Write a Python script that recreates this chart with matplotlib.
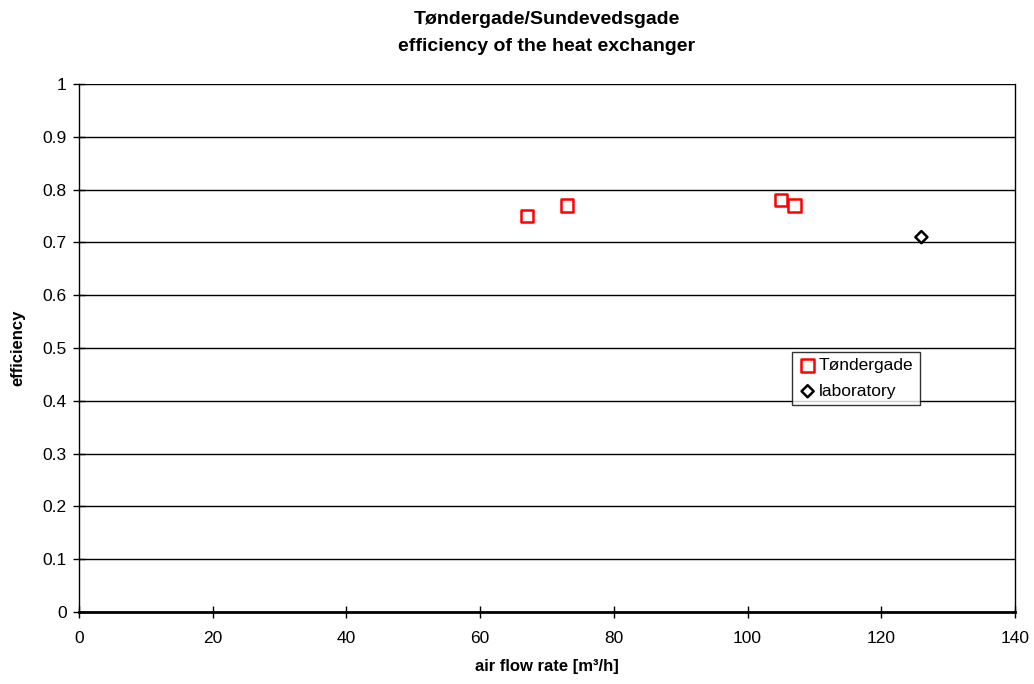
import matplotlib
matplotlib.use("Agg")
import matplotlib.pyplot as plt

plt.rcParams['font.family'] = ['Liberation Sans', 'DejaVu Sans']

# Measured data
tonder_flow = [67, 73, 105, 107]
tonder_eff = [0.75, 0.77, 0.78, 0.77]
lab_flow = [126]
lab_eff = [0.71]

x_ticks = [0, 20, 40, 60, 80, 100, 120, 140]
y_ticks = [0, 0.1, 0.2, 0.3, 0.4, 0.5, 0.6, 0.7, 0.8, 0.9, 1]
y_tick_labels = ['0', '0.1', '0.2', '0.3', '0.4', '0.5', '0.6', '0.7', '0.8', '0.9', '1']

W, H = 1034, 684
fig = plt.figure(figsize=(W / 100, H / 100), dpi=100)
ax = fig.add_axes([79 / W, 1 - 612 / H, (1015 - 79) / W, (612 - 84) / H])

ax.scatter(tonder_flow, tonder_eff, marker='s', s=80, facecolors='none',
           edgecolors='#ff0000', linewidths=1.8, label='Tøndergade', zorder=3)
ax.scatter(lab_flow, lab_eff, marker='D', s=38, facecolors='none',
           edgecolors='black', linewidths=1.8, label='laboratory', zorder=3)

ax.set_xlim(0, 140)
ax.set_ylim(0, 1)
ax.set_xticks(x_ticks)
ax.set_yticks(y_ticks)
ax.set_yticklabels(y_tick_labels)
ax.set_xticklabels([str(v) for v in x_ticks])

ax.grid(axis='y', color='black', linewidth=1.0)
ax.set_axisbelow(True)
for side in ['left', 'right', 'top']:
    ax.spines[side].set_linewidth(1.0)
ax.spines['bottom'].set_linewidth(2.0)
ax.spines['top'].set_visible(False)

ax.tick_params(axis='both', direction='inout', length=8, width=1.0,
               labelsize=12.5, colors='black')
ax.tick_params(axis='x', pad=10)
ax.tick_params(axis='y', pad=5)

ax.set_xlabel('air flow rate [m³/h]', fontsize=12, fontweight='bold', labelpad=9)
ax.set_ylabel('efficiency', fontsize=12, fontweight='bold', labelpad=12)

fig.text(547 / W, 1 - 33 / H, 'Tøndergade/Sundevedsgade\nefficiency of the heat exchanger',
         ha='center', va='center', fontsize=14, fontweight='bold', linespacing=1.7)

leg = ax.legend(loc='upper left', bbox_to_anchor=((792 - 79) / (1015 - 79), (612 - 352) / (612 - 84)),
                frameon=True, fancybox=False, edgecolor='black', fontsize=12.5,
                handletextpad=0.1, borderpad=0.35, handlelength=1.1, borderaxespad=0,
                labelspacing=0.6)
leg.get_frame().set_linewidth(1.0)

fig.savefig('out.png', dpi=100)
